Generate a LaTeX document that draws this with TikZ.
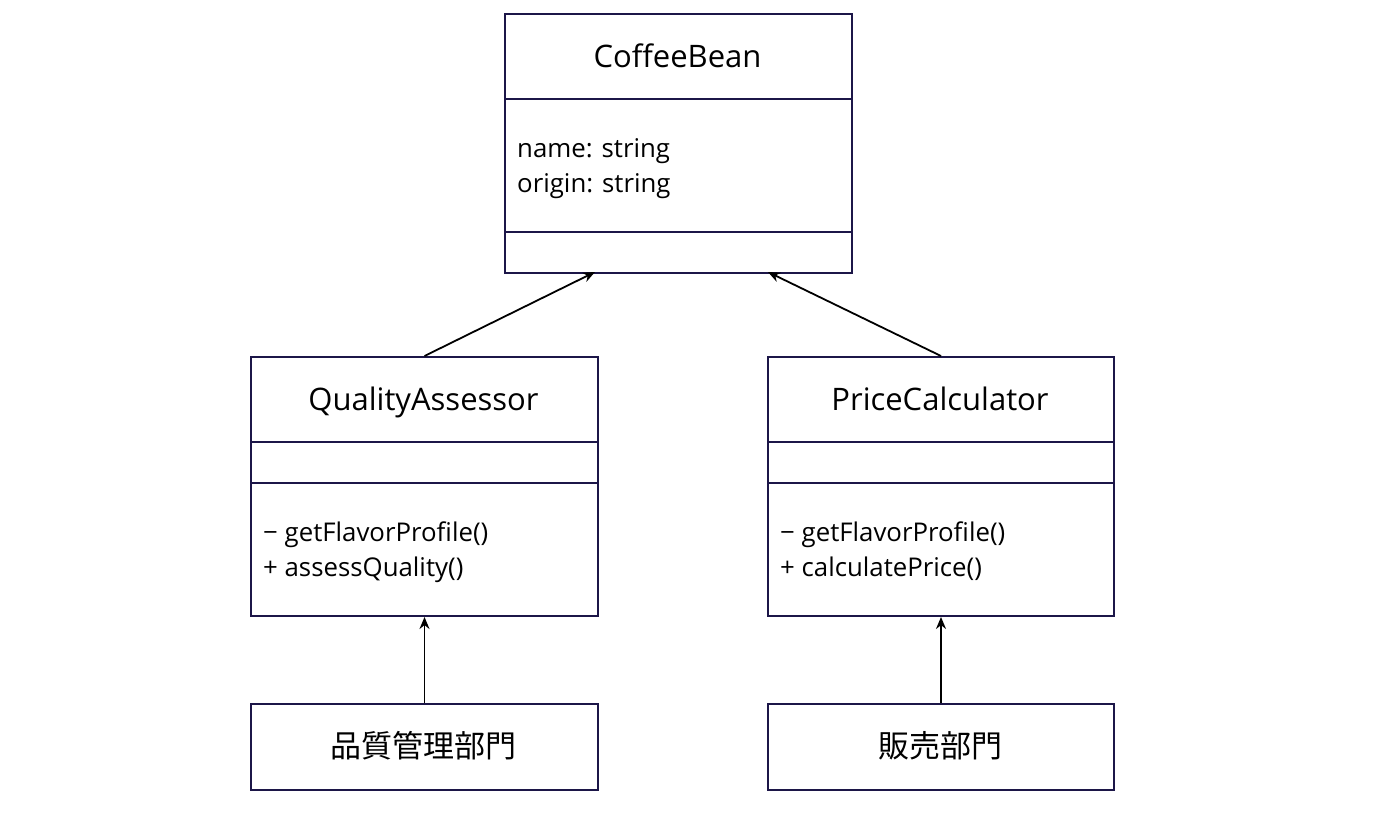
\documentclass[tikz,border=0pt]{standalone}
\usepackage{fontspec}
\setmainfont{Open Sans}
\newfontfamily\cjk{Noto Sans CJK JP}
\usetikzlibrary{arrows.meta}
\definecolor{navy}{RGB}{28,22,72}
\begin{document}
\begin{tikzpicture}[x=1pt,y=-1pt,
  box/.style={draw=navy, line width=2pt, rectangle, anchor=north west, inner sep=0pt, minimum width=347pt},
  div/.style={draw=navy, line width=2pt},
  titletxt/.style={font=\fontsize{31}{37}\selectfont, anchor=mid, inner sep=0pt},
  membtxt/.style={font=\fontsize{25.8}{35}\selectfont, anchor=mid west, inner sep=0pt},
  cjktxt/.style={font=\cjk\fontsize{31}{37}\selectfont, anchor=center, inner sep=0pt},
  rel/.style={draw=black, line width=1.8pt, -{Stealth[length=12pt,width=10pt]}}
]
\useasboundingbox[fill=white] (0,0) rectangle (1384,816);

% CoffeeBean
\node[box, minimum height=259pt] (cb) at (504,13) {};
\draw[div] (504,99) -- (851,99);
\draw[div] (504,232) -- (851,232);
\node[titletxt] (cbt) at (677.5,65) {CoffeeBean};
\node[membtxt] (cba1) at (517,155) {name: string};
\node[membtxt] (cba2) at (517,190) {origin: string};

% QualityAssessor
\node[box, minimum height=259pt] (qa) at (250,356) {};
\draw[div] (250,442) -- (597,442);
\draw[div] (250,483) -- (597,483);
\node[titletxt] (qat) at (423.5,408) {QualityAssessor};
\node[membtxt] (qam1) at (263,539) {− getFlavorProfile()};
\node[membtxt] (qam2) at (263,574) {+ assessQuality()};

% PriceCalculator
\node[box, minimum height=259pt, minimum width=346pt] (pc) at (767,356) {};
\draw[div] (767,442) -- (1113,442);
\draw[div] (767,483) -- (1113,483);
\node[titletxt] (pct) at (940,408) {PriceCalculator};
\node[membtxt] (pcm1) at (780,539) {− getFlavorProfile()};
\node[membtxt] (pcm2) at (780,574) {+ calculatePrice()};

% Departments
\node[box, minimum height=86pt] (qd) at (250,703) {};
\node[cjktxt] (qdt) at (423.5,746) {品質管理部門};
\node[box, minimum height=86pt, minimum width=346pt] (sd) at (767,703) {};
\node[cjktxt] (sdt) at (940,746) {販売部門};

% connectors
\coordinate (cbL) at (595,272);
\coordinate (cbR) at (768,272);
\draw[rel] (qa.north) -- (cbL);
\draw[rel] (pc.north) -- (cbR);
\draw[rel] (qd.north) -- (qa.south);
\draw[rel] (sd.north) -- (pc.south);
\end{tikzpicture}
\end{document}
